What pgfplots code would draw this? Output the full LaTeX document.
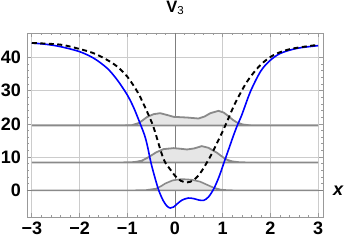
\documentclass[border=0pt]{standalone}
\usepackage{fontspec}
\setmainfont{Liberation Sans}[BoldFont={Liberation Sans Bold}, BoldItalicFont={Liberation Sans Bold Italic}]
\usepackage{pgfplots}
\pgfplotsset{compat=1.18}
\definecolor{gridc}{HTML}{CCCCCC}
\definecolor{framec}{HTML}{999999}
\definecolor{axc}{HTML}{7F7F7F}
\definecolor{denc}{HTML}{8A8A8A}
\definecolor{fillc}{HTML}{E6E6E6}
\newcommand{\bigb}{\bfseries\fontsize{18pt}{21pt}\selectfont}
\begin{document}
\begin{tikzpicture}
\begin{axis}[
  name=ax,
  scale only axis, width=296pt, height=184pt,
  xmin=-3.1, xmax=3.1, ymin=-8, ymax=47.3,
  xtick={-3,-2,-1,0,1,2,3},
  xticklabels={−3,−2,−1,0,1,2,3},
  ytick={0,10,20,30,40},
  yticklabels={0,10,20,30,40},
  minor x tick num=4, minor y tick num=4,
  tick pos=both, tick align=inside,
  major tick length=4.5pt, minor tick length=2.5pt,
  every tick/.style={framec, line width=0.6pt},
  axis line style={framec, line width=0.8pt},
  grid=major,
  major grid style={gridc, line width=0.6pt},
  extra x ticks={0}, extra x tick labels={},
  extra y ticks={0}, extra y tick labels={},
  extra tick style={grid=major, major grid style={axc, line width=0.9pt}, major tick length=0pt},
  /pgf/number format/assume math mode=true,
  every tick label/.append style={font=\bigb, text=black},
  xticklabel style={inner sep=2pt, yshift=-3pt},
  yticklabel style={inner sep=2pt, xshift=-4pt},
  xlabel={\bigb\itshape x},
  xlabel style={at={(axis description cs:1,0.1447)}, anchor=west, inner sep=0pt, xshift=10pt},
  title={\bfseries\fontsize{16.5pt}{16.5pt}\selectfont V\raisebox{-2pt}{\mdseries\fontsize{11.5pt}{11.5pt}\selectfont 3}},
  title style={at={(axis description cs:0.5,1)}, anchor=base, inner sep=0pt, yshift=14.5pt},
]
% density level 0
\addplot[fill=fillc, draw=denc, line width=1.6pt] coordinates {
(-3,0) (-0.9,0) (-0.6,0.1) (-0.4,0.5) (-0.3,1.2) (-0.2,2.1) (-0.05,3.0) (0.14,3.4) (0.35,3.2) (0.53,2.6) (0.7,1.5) (0.81,0.8) (0.95,0.25) (1.1,0.05) (1.3,0) (3,0)} -- cycle;
% density level 1
\addplot[fill=fillc, draw=denc, line width=1.8pt] coordinates {
(-3,8.4) (-1.1,8.4) (-0.85,8.5) (-0.7,8.9) (-0.55,10.0) (-0.4,11.4) (-0.24,12.4) (-0.03,12.7) (0.12,12.5) (0.25,12.3) (0.4,12.6) (0.56,13.3) (0.7,12.8) (0.88,11.3) (1.0,10.0) (1.09,9.2) (1.2,8.7) (1.35,8.45) (1.5,8.4) (3,8.4)} -- cycle;
% density level 2
\addplot[fill=fillc, draw=denc, line width=1.8pt] coordinates {
(-3,19.5) (-1.1,19.5) (-0.9,19.6) (-0.75,20.3) (-0.59,22.0) (-0.45,22.9) (-0.31,23.2) (-0.15,22.6) (-0.03,22.1) (0.25,21.9) (0.49,21.6) (0.62,22.2) (0.74,23.2) (0.91,23.9) (1.02,23.4) (1.12,22.3) (1.22,21.1) (1.3,20.4) (1.42,19.8) (1.6,19.5) (3,19.5)} -- cycle;
% blue potential
\addplot[blue, line width=1.6pt, smooth, tension=0.5] coordinates {
(-3.0,44.3) (-2.7,43.9) (-2.4,43.2) (-2.0,41.7) (-1.7,39.7) (-1.42,36.7) (-1.21,33.2) (-1.0,28.7) (-0.86,24.7) (-0.72,19.7) (-0.64,16.7) (-0.58,13.5) (-0.505,8.4) (-0.42,3.8) (-0.34,0) (-0.25,-3.0) (-0.17,-4.7) (-0.10,-5.3) (-0.03,-5.0) (0.05,-4.0) (0.15,-2.9) (0.28,-2.3) (0.40,-2.5) (0.50,-2.9) (0.60,-3.0) (0.70,-2.0) (0.81,0.4) (0.92,4.0) (1.03,8.5) (1.13,12.6) (1.23,16.7) (1.31,19.7) (1.40,22.7) (1.58,29.7) (1.79,35.7) (1.98,38.9) (2.21,41.2) (2.56,42.7) (3.0,43.5)};
% dashed
\addplot[black, line width=1.9pt, dash pattern=on 5pt off 3.5pt, smooth, tension=0.5] coordinates {
(-3.0,44.3) (-2.4,43.8) (-2.0,42.5) (-1.7,41.2) (-1.42,39.2) (-1.21,37.2) (-1.0,34.2) (-0.79,29.7) (-0.65,25.7) (-0.48,20.2) (-0.41,17.2) (-0.24,9.4) (-0.1,6.3) (0.0,4.4) (0.12,2.9) (0.25,2.4) (0.38,3.0) (0.53,5.2) (0.74,10.2) (0.98,17.2) (1.1,21.0) (1.26,26.2) (1.51,32.7) (1.79,37.7) (2.07,40.7) (2.42,42.5) (2.97,43.7)};
\end{axis}
\pgfresetboundingbox
\path ([shift={(-27pt,-27pt)}]ax.south west) rectangle ([shift={(28pt,33pt)}]ax.north east);
\end{tikzpicture}
\end{document}
